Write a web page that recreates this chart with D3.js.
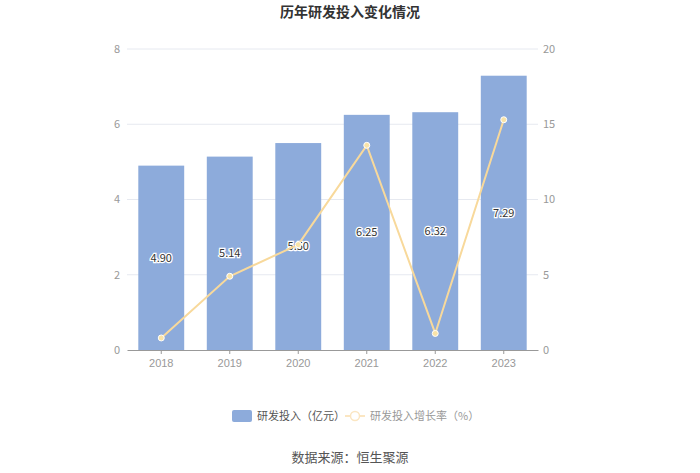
<!DOCTYPE html>
<html><head><meta charset="utf-8">
<script src="https://cdn.jsdelivr.net/npm/d3@7"></script>
<style>body{margin:0;background:#fff;font-family:"Noto Sans CJK SC","Noto Sans",sans-serif;}</style>
</head><body><svg id="c" width="700" height="473"></svg>
<script>
const years = ["2018","2019","2020","2021","2022","2023"];
const investment = [4.90, 5.14, 5.50, 6.25, 6.32, 7.29];
const growth = [0.8, 4.9, 7.0, 13.6, 1.1, 15.3];
const leftTicks = [0,2,4,6,8];
const rightTicks = [0,5,10,15,20];

const svg = d3.select("#c");
const m = {l:127, r:538, t:49, b:350};
const x = d3.scaleBand().domain(years).range([m.l, m.r]).paddingInner(0.33).paddingOuter(0.165);
const xc = d3.scaleBand().domain(years).range([m.l, m.r]);
const yL = d3.scaleLinear().domain([0,8]).range([m.b, m.t]);
const yR = d3.scaleLinear().domain([0,20]).range([m.b, m.t]);

svg.append("text").attr("x",350).attr("y",17).attr("text-anchor","middle")
  .attr("font-size",14).attr("font-weight","bold").attr("fill","#333").text("历年研发投入变化情况");

// grid
svg.append("g").selectAll("line").data(leftTicks.slice(1)).join("line")
  .attr("x1",m.l).attr("x2",m.r).attr("y1",d=>yL(d)).attr("y2",d=>yL(d))
  .attr("stroke","#e6e9f0").attr("stroke-width",1);

// left axis labels
svg.append("g").selectAll("text").data(leftTicks).join("text")
  .attr("x",120).attr("y",d=>yL(d)).attr("dy","0.35em").attr("text-anchor","end")
  .attr("font-size",11).attr("fill","#999").text(d=>d);
// right axis labels
svg.append("g").selectAll("text").data(rightTicks).join("text")
  .attr("x",543).attr("y",d=>yR(d)).attr("dy","0.35em").attr("text-anchor","start")
  .attr("font-size",11).attr("fill","#999").text(d=>d);

// bars
svg.append("g").selectAll("rect").data(investment).join("rect")
  .attr("x",(d,i)=>x(years[i])).attr("width",x.bandwidth())
  .attr("y",d=>yL(d)).attr("height",d=>m.b-yL(d)).attr("fill","#8dabdb");

// x axis
const xa = svg.append("g").attr("transform",`translate(0,${m.b})`)
  .call(d3.axisBottom(xc).tickSize(4).tickSizeOuter(0));
xa.select(".domain").attr("stroke","#999");
xa.selectAll(".tick line").attr("stroke","#999");
xa.selectAll("text").attr("fill","#999").attr("font-size",11).attr("dy","0.9em");

// bar labels
svg.append("g").selectAll("text").data(investment).join("text")
  .attr("x",(d,i)=>x(years[i])+x.bandwidth()/2).attr("y",d=>(yL(d)+m.b)/2)
  .attr("dy","0.35em").attr("text-anchor","middle").attr("font-size",11)
  .attr("fill","#333").attr("stroke","#fff").attr("stroke-width",2.5)
  .attr("paint-order","stroke").text(d=>d.toFixed(2));

// line
const line = d3.line().x((d,i)=>xc(years[i])+xc.bandwidth()/2).y(d=>yR(d));
svg.append("path").datum(growth).attr("d",line).attr("fill","none")
  .attr("stroke","#f8d99b").attr("stroke-width",2);
svg.append("g").selectAll("circle").data(growth).join("circle")
  .attr("cx",(d,i)=>xc(years[i])+xc.bandwidth()/2).attr("cy",d=>yR(d)).attr("r",3)
  .attr("fill","#f8e3a8").attr("stroke","#fff").attr("stroke-width",1);

// legend
const lg = svg.append("g");
lg.append("rect").attr("x",232).attr("y",410).attr("width",20).attr("height",12).attr("rx",2).attr("fill","#8dabdb");
lg.append("text").attr("x",257).attr("y",416).attr("dy","0.35em").attr("font-size",11).attr("fill","#555").text("研发投入（亿元）");
lg.append("line").attr("x1",345).attr("x2",365).attr("y1",416).attr("y2",416).attr("stroke","#fbe6c2").attr("stroke-width",2);
lg.append("circle").attr("cx",355).attr("cy",416).attr("r",4.5).attr("fill","#fff").attr("stroke","#fbe6c2").attr("stroke-width",1.5);
lg.append("text").attr("x",370).attr("y",416).attr("dy","0.35em").attr("font-size",11).attr("fill","#999").text("研发投入增长率（%）");

svg.append("text").attr("x",350).attr("y",457).attr("text-anchor","middle").attr("dy","0.35em")
  .attr("font-size",13).attr("fill","#555").text("数据来源：恒生聚源");
</script></body></html>
